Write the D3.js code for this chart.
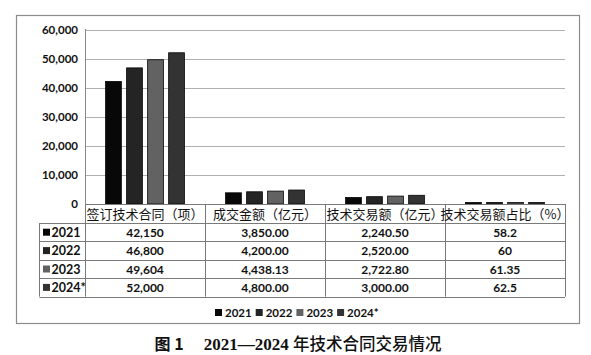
<!DOCTYPE html>
<html>
<head>
<meta charset="utf-8">
<script src="https://cdn.jsdelivr.net/npm/d3@7"></script>
<style>
body { margin: 0; background: #fff; }
svg { display: block; }
.tick text { font-family: Lato, "Liberation Sans", sans-serif; font-weight: bold; font-size: 11.5px; fill: #111; }
</style>
</head>
<body>
<div id="idChart"></div>
<script>
// data
var asCategory = ["签订技术合同（项）", "成交金额（亿元）", "技术交易额（亿元）", "技术交易额占比（%）"];
var asYear = ["2021", "2022", "2023", "2024*"];
var aiY2021 = [42150, 3850, 2240.5, 58.2];
var aiY2022 = [46800, 4200, 2520, 60];
var aiY2023 = [49604, 4438.13, 2722.8, 61.35];
var aiY2024 = [52000, 4800, 3000, 62.5];
var asCell2021 = ["42,150", "3,850.00", "2,240.50", "58.2"];
var asCell2022 = ["46,800", "4,200.00", "2,520.00", "60"];
var asCell2023 = ["49,604", "4,438.13", "2,722.80", "61.35"];
var asCell2024 = ["52,000", "4,800.00", "3,000.00", "62.5"];
var aiYTick = [0, 10000, 20000, 30000, 40000, 50000, 60000];
var asColor = ["#080808", "#242424", "#626262", "#333333"];

var aaiValue = [aiY2021, aiY2022, aiY2023, aiY2024];
var aasCell = [asCell2021, asCell2022, asCell2023, asCell2024];

function drawChart()
{
    var iWidth = 591, iHeight = 355;
    var sCJK = "'Noto Sans CJK SC', sans-serif";
    var sNum = "Lato, 'Liberation Sans', sans-serif";

    var svg = d3.select("#idChart").append("svg").attr("width", iWidth).attr("height", iHeight);

    // outer frame
    svg.append("rect").attr("x", 16.5).attr("y", 15.5).attr("width", 563).attr("height", 308)
        .attr("fill", "none").attr("stroke", "#8c8c8c").attr("stroke-width", 1.2);

    var x0 = d3.scaleBand().domain(asCategory).range([85, 565]);
    var x1 = d3.scaleBand().domain(asYear).range([0, x0.bandwidth()]).paddingInner(0.25).paddingOuter(0.98);
    var y = d3.scaleLinear().domain([0, 60000]).range([204, 29.5]);

    // grid lines
    svg.append("g").selectAll("line").data(aiYTick).enter().append("line")
        .attr("x1", 85).attr("x2", 565)
        .attr("y1", function(d) { return Math.round(y(d)) + 0.5; })
        .attr("y2", function(d) { return Math.round(y(d)) + 0.5; })
        .attr("stroke", function(d) { return d == 0 ? "#888" : "#b0b0b0"; });

    // y axis labels
    var yAxis = d3.axisLeft(y).tickValues(aiYTick).tickSize(0).tickPadding(7).tickFormat(d3.format(","));
    var gY = svg.append("g").attr("transform", "translate(85,0)").call(yAxis);
    gY.select(".domain").remove();

    svg.append("line").attr("x1", 85.5).attr("x2", 85.5).attr("y1", 29).attr("y2", 204)
        .attr("stroke", "#888");

    // bars
    for (var i = 0; i < asYear.length; i++)
    {
        svg.append("g").selectAll("rect").data(aaiValue[i]).enter().append("rect")
            .attr("x", function(d, j) { return x0(asCategory[j]) + x1(asYear[i]); })
            .attr("y", function(d) { return Math.min(y(d), 202.5); })
            .attr("width", x1.bandwidth())
            .attr("height", function(d) { return Math.max(204 - y(d), 1.5); })
            .attr("fill", asColor[i])
            .attr("stroke", "#050505").attr("stroke-width", 0.8);
    }

    // data table
    var iTop = 204, iHeadH = 19, iRowH = 18.4, iLeft = 39.5;
    var iBottom = iTop + iHeadH + iRowH * 4;
    var gT = svg.append("g");
    var sLine = "#7a7a7a";

    // horizontal lines
    gT.append("line").attr("x1", 85).attr("x2", 565).attr("y1", iTop + 0.5).attr("y2", iTop + 0.5).attr("stroke", sLine);
    for (var r = 0; r <= 4; r++)
    {
        var yy = Math.round(iTop + iHeadH + r * iRowH) + 0.5;
        gT.append("line").attr("x1", iLeft).attr("x2", 565).attr("y1", yy).attr("y2", yy).attr("stroke", sLine);
    }
    // vertical lines
    gT.append("line").attr("x1", iLeft).attr("x2", iLeft).attr("y1", iTop + iHeadH).attr("y2", iBottom).attr("stroke", sLine);
    x0.domain().concat(["end"]).forEach(function(c, k) {
        var xx = (k < 4 ? x0(c) : 565) + 0.5;
        gT.append("line").attr("x1", xx).attr("x2", xx).attr("y1", iTop).attr("y2", iBottom).attr("stroke", sLine);
    });

    // header
    gT.selectAll("text.head").data(asCategory).enter().append("text")
        .attr("class", "head")
        .attr("x", function(d) { return x0(d) + x0.bandwidth() / 2; })
        .attr("y", iTop + iHeadH / 2 + 5)
        .attr("text-anchor", "middle")
        .style("font-family", sCJK).style("font-size", "13px").style("fill", "#111")
        .text(function(d) { return d; });

    // rows
    for (var r = 0; r < 4; r++)
    {
        var yMid = iTop + iHeadH + r * iRowH + iRowH / 2;
        gT.append("rect").attr("x", 43).attr("y", yMid - 3.5).attr("width", 7).attr("height", 7).attr("fill", asColor[r]);
        gT.append("text").attr("x", 51.5).attr("y", yMid + 4.5)
            .style("font-family", sNum).style("font-weight", "bold").style("font-size", "12.5px").style("fill", "#111")
            .text(asYear[r]);
        gT.selectAll("text.c" + r).data(aasCell[r]).enter().append("text")
            .attr("class", "c" + r)
            .attr("x", function(d, j) { return x0(asCategory[j]) + x0.bandwidth() / 2; })
            .attr("y", yMid + 4.5)
            .attr("text-anchor", "middle")
            .style("font-family", sNum).style("font-weight", "bold").style("font-size", "12px").style("fill", "#111")
            .text(function(d) { return d; });
    }

    // legend
    var gL = svg.append("g");
    asYear.forEach(function(s, k) {
        var xx = 215 + k * 40.7;
        gL.append("rect").attr("x", xx).attr("y", 309).attr("width", 7).attr("height", 7).attr("fill", asColor[k]);
        gL.append("text").attr("x", xx + 10).attr("y", 316.5)
            .style("font-family", sNum).style("font-weight", "bold").style("font-size", "11.5px").style("fill", "#111")
            .text(s);
    });

    // caption
    var cap = svg.append("text").attr("x", 298).attr("y", 350).attr("text-anchor", "middle")
        .style("fill", "#111");
    cap.append("tspan").style("font-family", "'Noto Sans CJK SC', sans-serif").style("font-weight", "bold").style("font-size", "16px").text("图 1");
    cap.append("tspan").attr("dx", 20).style("font-family", "'Liberation Serif', serif").style("font-weight", "bold").style("font-size", "17px").text("2021—2024 ");
    cap.append("tspan").style("font-family", sCJK).style("font-weight", "500").style("font-size", "16.5px").text("年技术合同交易情况");
}

drawChart();
</script>
</body>
</html>
